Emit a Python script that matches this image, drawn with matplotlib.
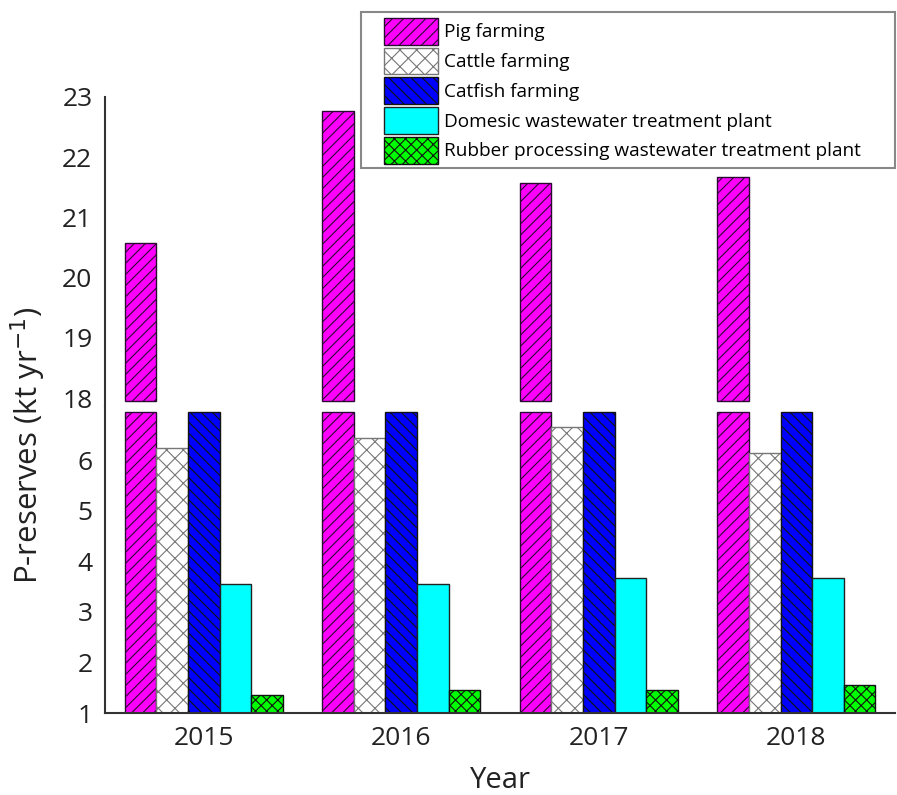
import numpy as np
import matplotlib
matplotlib.use("Agg")
import matplotlib.pyplot as plt
from matplotlib.patches import Rectangle

plt.rcParams['font.family'] = ['Open Sans', 'DejaVu Sans']
plt.rcParams['hatch.linewidth'] = 0.8

years = ['2015', '2016', '2017', '2018']
series = ['Pig farming', 'Cattle farming', 'Catfish farming',
          'Domesic wastewater treatment plant',
          'Rubber processing wastewater treatment plant']

pig = [20.57, 22.77, 21.57, 21.67]
cattle = [6.24, 6.44, 6.65, 6.14]
catfish = [12.0, 12.0, 12.0, 12.0]   # above the axis break, hidden
domestic = [3.56, 3.56, 3.66, 3.66]
rubber = [1.36, 1.46, 1.46, 1.56]

values = [pig, cattle, catfish, domestic, rubber]
faces = ['#ff00ff', 'white', '#0000ff', '#00ffff', '#00ff00']
edges = ['#2a0a30', '#777777', '#111111', '#222222', '#111111']
hatches = ['///', 'xx', '\\\\\\', '', 'xxx']

lo_min, lo_cap, lo_max = 1.0, 6.95, 7.07
hi_min, hi_start, hi_max = 17.87, 17.95, 23.0

fig = plt.figure(figsize=(8.97, 7.95), dpi=100)
ax_lo = fig.add_axes([0.117, 0.1031, 0.881, 0.3862])
ax_hi = fig.add_axes([0.117, 0.4893, 0.881, 0.3887])

x = np.arange(len(years))
w = 0.16
handles = []
for i, (name, v) in enumerate(zip(series, values)):
    v = np.array(v)
    pos = x + (i - 2) * w
    h = ax_lo.bar(pos, np.minimum(v, lo_cap) - lo_min, bottom=lo_min, width=w,
                  color=faces[i], edgecolor=edges[i], hatch=hatches[i],
                  linewidth=1.0, label=name)
    handles.append(h)
    top = v > hi_start
    if top.any():
        ax_hi.bar(pos[top], v[top] - hi_start, bottom=hi_start, width=w,
                  color=faces[i], edgecolor=edges[i], hatch=hatches[i],
                  linewidth=1.0)

for ax in (ax_lo, ax_hi):
    ax.set_xlim(-0.5, 3.5)
    ax.spines['top'].set_visible(False)
    ax.spines['right'].set_visible(False)
    ax.spines['left'].set_color('#333333')
    ax.spines['left'].set_linewidth(1.5)
    ax.tick_params(length=0, labelsize=19, pad=9, labelcolor='#222222')

ax_lo.set_ylim(lo_min, lo_max)
ax_lo.set_yticks([1, 2, 3, 4, 5, 6])
ax_lo.spines['bottom'].set_color('#333333')
ax_lo.spines['bottom'].set_linewidth(1.5)
ax_lo.set_xticks(x)
ax_lo.set_xticklabels(years)
ax_lo.set_xlabel('Year', fontsize=21, labelpad=11, color='#222222')

ax_hi.set_ylim(hi_min, hi_max)
ax_hi.set_yticks([18, 19, 20, 21, 22, 23])
ax_hi.spines['bottom'].set_visible(False)
ax_hi.set_xticks([])

fig.text(0.031, 1 - 445 / 795, 'P-reserves (kt yr$^{-1}$)', rotation=90,
         fontsize=22.5, ha='center', va='center', color='#222222')

# legend frame drawn separately so the entries can sit indented inside it
fig.patches.append(Rectangle((361 / 897, 1 - 168 / 795), 534 / 897, 156 / 795,
                             transform=fig.transFigure, facecolor='white',
                             edgecolor='#888888', linewidth=1.5, zorder=5))
leg = fig.legend(handles=handles, loc='upper left',
                 bbox_to_anchor=(384 / 897, 1 - 18 / 795), borderaxespad=0,
                 fontsize=13.7, frameon=False,
                 handlelength=2.83, handleheight=1.78, labelspacing=0.16,
                 handletextpad=0.32, borderpad=0)
leg.set_zorder(6)

fig.savefig('out.png', dpi=100)
